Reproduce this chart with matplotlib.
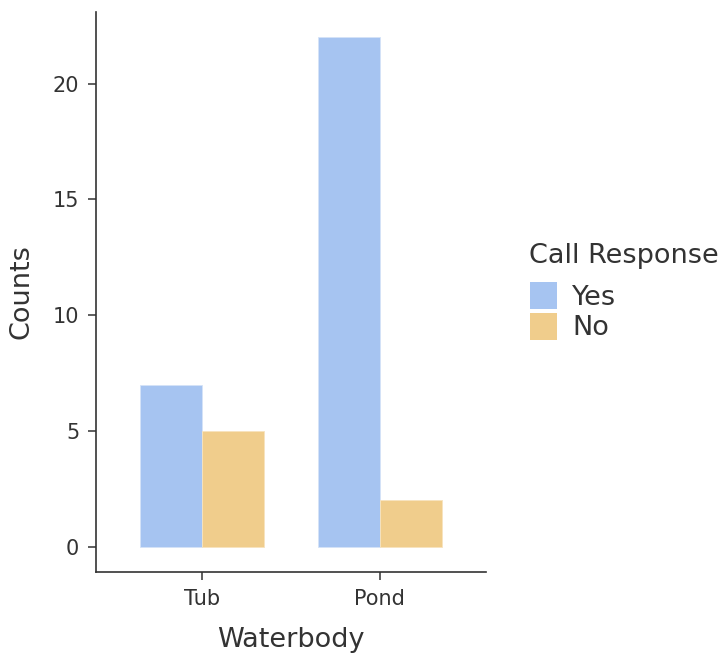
import matplotlib
matplotlib.use("Agg")
import matplotlib.pyplot as plt
import numpy as np
from matplotlib.patches import Patch

categories = ["Tub", "Pond"]
yes_counts = [7, 22]
no_counts = [5, 2]
series_names = ["Yes", "No"]
colors = ["#A6C4F1", "#F0CD8C"]

plt.rcParams['font.family'] = ['DejaVu Sans']
fig = plt.figure(figsize=(7.24, 6.56), dpi=100)
ax = fig.add_axes([96/724, 1 - 572/656, 390/724, 560/656])

x = np.arange(1, len(categories) + 1)
w = 0.35
ax.bar(x - w/2, yes_counts, width=w, color=colors[0], edgecolor="#D5E3F8", linewidth=0.6)
ax.bar(x + w/2, no_counts, width=w, color=colors[1], edgecolor="#F7E3BE", linewidth=0.6)

ax.set_xlim(0.4, 2.6)
ax.set_ylim(-1.1, 23.1)
ax.set_xticks(x)
ax.set_xticklabels(categories)
ax.set_yticks([0, 5, 10, 15, 20])

for s in ["top", "right"]:
    ax.spines[s].set_visible(False)
for s in ["left", "bottom"]:
    ax.spines[s].set_color("#333333")
    ax.spines[s].set_linewidth(1.2)
ax.tick_params(axis="both", length=6, width=1.1, color="#333333",
               labelcolor="#333333", labelsize=15, pad=6)

ax.set_xlabel("Waterbody", fontsize=19.5, color="#333333")
ax.set_ylabel("Counts", fontsize=19.5, color="#333333")
ax.xaxis.set_label_coords(0.5, -(640 - 572) / 560, transform=ax.transAxes)
ax.xaxis.label.set_va("center")
ax.yaxis.set_label_coords(-(96 - 22) / 390, 0.5, transform=ax.transAxes)
ax.yaxis.label.set_va("center")

fig.text(529/724, 1 - 256/656, "Call Response", fontsize=19.5, color="#333333",
         ha="left", va="center")
handles = [Patch(facecolor=colors[i], edgecolor="none") for i in range(2)]
leg = fig.legend(handles, series_names,
                 loc="upper left", bbox_to_anchor=(530/724, 1 - 282/656),
                 frameon=False, fontsize=19.5,
                 handlelength=1.0, handleheight=1.15, handletextpad=0.55,
                 labelspacing=0.08, borderaxespad=0, borderpad=0)
for t in leg.get_texts():
    t.set_color("#333333")

fig.savefig("out.png", dpi=100)
